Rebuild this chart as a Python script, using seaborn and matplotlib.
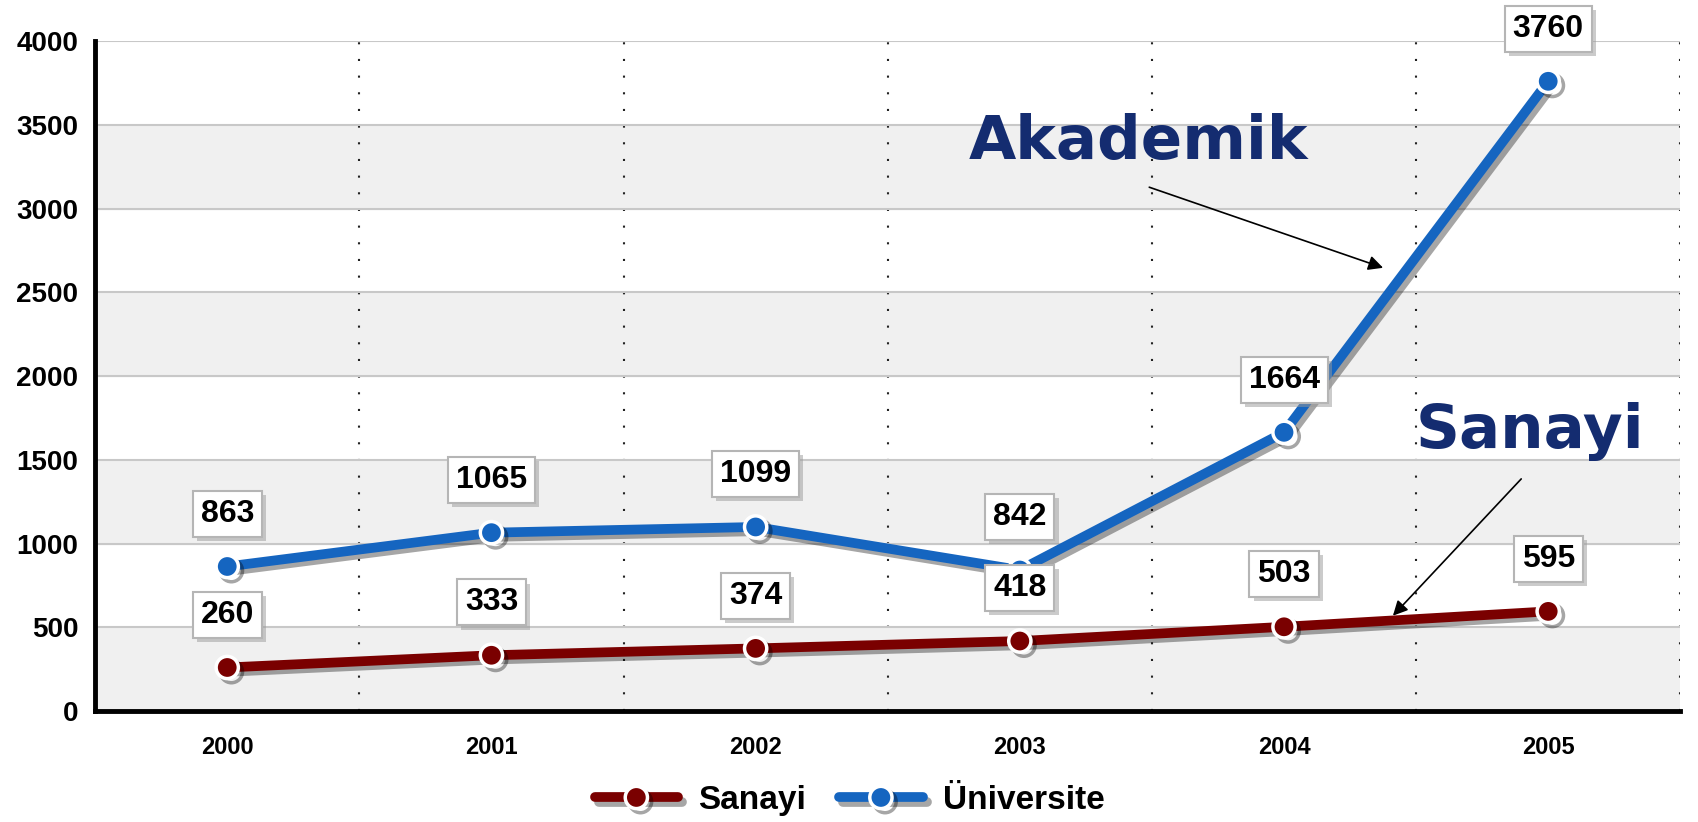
import matplotlib
matplotlib.use("Agg")
import matplotlib.pyplot as plt
import matplotlib.patheffects as pe
import seaborn as sns
import pandas as pd

years = ["2000", "2001", "2002", "2003", "2004", "2005"]
sanayi = [260, 333, 374, 418, 503, 595]
universite = [863, 1065, 1099, 842, 1664, 3760]
series_names = ["Sanayi", "Üniversite"]
colors = {"Sanayi": "#7a0000", "Üniversite": "#1565c0"}

df = pd.DataFrame({
    "idx": list(range(len(years))) * 2,
    "value": sanayi + universite,
    "seri": [series_names[0]] * len(years) + [series_names[1]] * len(years),
})

sns.set_style("white")
plt.rcParams["font.family"] = ["Liberation Sans", "DejaVu Sans"]
plt.rcParams["text.color"] = "black"
plt.rcParams["xtick.color"] = "black"
plt.rcParams["ytick.color"] = "black"

fig, ax = plt.subplots(figsize=(16.99, 8.22), dpi=100)
fig.subplots_adjust(left=0.056, right=0.989, bottom=0.135, top=0.950)

# alternating background bands
for lo in range(0, 4000, 1000):
    ax.axhspan(lo, lo + 500, color="#f0f0f0", zorder=0)

sns.lineplot(data=df, x="idx", y="value", hue="seri", palette=colors,
             marker="o", markersize=16, markeredgecolor="white",
             markeredgewidth=2.5, linewidth=7, ax=ax, legend=False,
             sort=False, zorder=5)

shadow = [pe.SimpleLineShadow(offset=(3, -3), shadow_color="black", alpha=0.35),
          pe.Normal()]
for ln in ax.lines:
    ln.set_path_effects(shadow)

# value boxes
for vals in (sanayi, universite):
    for i, v in enumerate(vals):
        t = ax.annotate(str(v), (i, v), xytext=(0, 38), textcoords="offset points",
                        ha="center", va="center", fontsize=23, fontweight="bold",
                        color="black", zorder=10,
                        bbox=dict(boxstyle="square,pad=0.25", fc="white",
                                  ec="#b5b5b5", lw=1.5))
        t.get_bbox_patch().set_path_effects(
            [pe.withSimplePatchShadow(offset=(3, -3), shadow_rgbFace="#999999", alpha=0.5)])

# big labels with arrows
ax.text(3.45, 3392, "Akademik", fontsize=44, fontweight="bold", color="#142c70",
        ha="center", va="center", family=["DejaVu Sans"])
ax.annotate("", xy=(4.385, 2641), xytext=(3.48, 3133),
            arrowprops=dict(arrowstyle="-|>", color="black", lw=1.2, mutation_scale=22))
ax.text(4.93, 1670, "Sanayi", fontsize=44, fontweight="bold", color="#142c70",
        ha="center", va="center", family=["DejaVu Sans"])
ax.annotate("", xy=(4.405, 557), xytext=(4.905, 1398),
            arrowprops=dict(arrowstyle="-|>", color="black", lw=1.2, mutation_scale=22))

ax.set_xlim(-0.5, 5.5)
ax.set_ylim(0, 4000)
ax.set_xticks(range(len(years)))
ax.set_xticklabels(years)
ax.set_xticks([i + 0.5 for i in range(-1, len(years))], minor=True)
ax.set_yticks(range(0, 4001, 500))
ax.set_xlabel("")
ax.set_ylabel("")

ax.tick_params(axis="x", which="major", length=0, pad=18, labelsize=17)
ax.tick_params(axis="x", which="minor", length=10, width=3, color="black", direction="out")
ax.tick_params(axis="y", which="major", length=9, width=3, color="black",
               direction="out", pad=3, labelsize=20)
for lab in ax.get_xticklabels() + ax.get_yticklabels():
    lab.set_fontweight("bold")

ax.grid(axis="y", which="major", color="#c8c8c8", lw=1.5, zorder=1)
ax.grid(axis="x", which="minor", color="#222222", lw=1.5, linestyle=(0, (1, 7)), zorder=1)
ax.grid(axis="x", which="major", visible=False)
ax.set_axisbelow(True)

sns.despine(ax=ax)
for side in ("left", "bottom"):
    ax.spines[side].set_linewidth(3.5)
    ax.spines[side].set_color("black")

fig.legend(handles=ax.lines[:2], labels=series_names, loc="center",
           bbox_to_anchor=(0.5, 0.026), ncol=2, frameon=False, handlelength=2.5,
           columnspacing=1.0, handletextpad=0.6, prop={"size": 24, "weight": "bold"})

fig.savefig("out.png", dpi=100)
